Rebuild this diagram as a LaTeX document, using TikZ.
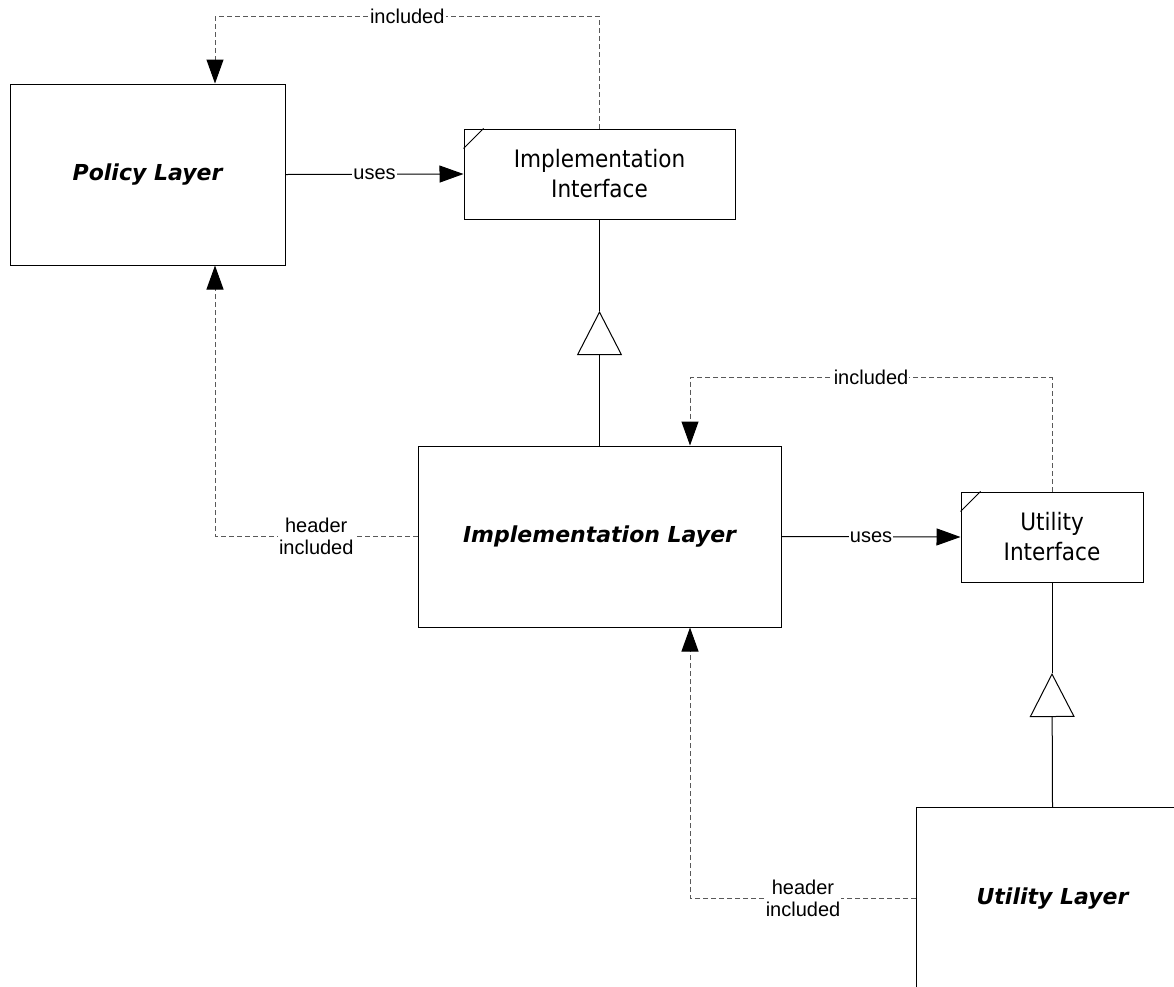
\documentclass[tikz,border=0pt]{standalone}
\usepackage{fontspec}
\setmainfont{Liberation Sans}
\newfontfamily\ifacefont{DejaVu Sans Condensed}
\newfontfamily\layerfont{DejaVu Sans}
\usetikzlibrary{arrows.meta,calc}

\tikzset{
	layer/.style={draw,line width=1pt,inner sep=0pt,minimum height=181pt,
		font=\layerfont\fontsize{22}{26}\selectfont\bfseries\itshape},
	iface/.style={draw,line width=1pt,inner sep=0pt,minimum height=90pt,align=center,
		font=\ifacefont\fontsize{24}{30}\selectfont},
	uses/.style={line width=1pt,-{Triangle[length=24pt,width=17pt]}},
	incl/.style={line width=1pt,draw=black!65,dash pattern=on 5pt off 3pt,
		-{Triangle[length=24pt,width=17pt,fill=black,color=black]}},
	gen/.style={line width=1pt,-{Triangle[open,length=44pt,width=45pt]}},
	lbl/.style={fill=white,inner sep=1pt,align=center,font=\fontsize{20}{22}\selectfont},
}

\begin{document}
\begin{tikzpicture}[x=1pt,y=-1pt]
	\useasboundingbox (0,0) rectangle (1174,986);
	\clip (0,0) rectangle (1174,986);

	%couches
	\node [layer,minimum width=275pt] (policy) at (147.5,174.5) {Policy Layer};
	\node [layer,minimum width=363pt] (impl) at (599.5,536.5) {Implementation Layer};
	\node [layer,minimum width=272pt,anchor=north west] (util) at (916,807) {Utility Layer};

	%interfaces
	\node [iface,minimum width=271pt] (iimpl) at (599.5,174) {Implementation\\Interface};
	\node [iface,minimum width=182pt] (iutil) at (1052,537) {Utility\\Interface};
	\draw [line width=1pt] ([yshift=-20pt]iimpl.north west) -- ([xshift=20pt]iimpl.north west);
	\draw [line width=1pt] ([yshift=-20pt]iutil.north west) -- ([xshift=20pt]iutil.north west);
	%fin

	\coordinate (ptop) at ([xshift=67.5pt]policy.north);
	\coordinate (pbot) at ([xshift=67.5pt]policy.south);
	\coordinate (itop) at ([xshift=90.5pt]impl.north);
	\coordinate (ibot) at ([xshift=90.5pt]impl.south);

	\draw [uses] (policy.east) -- node [lbl] {uses} (iimpl.west);
	\draw [uses] (impl.east) -- node [lbl] {uses} (iutil.west);

	\draw [incl] (iimpl.north) |- node [lbl,pos=0.75] {included} ($(ptop)+(0,-67)$) -- (ptop);
	\draw [incl] (iutil.north) |- node [lbl,pos=0.75] {included} ($(itop)+(0,-68)$) -- (itop);
	\draw [incl] (impl.west) -| node [lbl,pos=0.25] {header\\included} (pbot);
	\draw [incl] (util.west) -| node [lbl,pos=0.25] {header\\included} (ibot);

	%heritage
	\coordinate (gimpl) at (599.5,311);
	\coordinate (gutil) at (1052,673);
	\draw [gen] (impl.north) -- (gimpl);
	\draw [line width=1pt] (gimpl) -- (iimpl.south);
	\draw [gen] (util.north) -- (gutil);
	\draw [line width=1pt] (gutil) -- (iutil.south);
\end{tikzpicture}
\end{document}
